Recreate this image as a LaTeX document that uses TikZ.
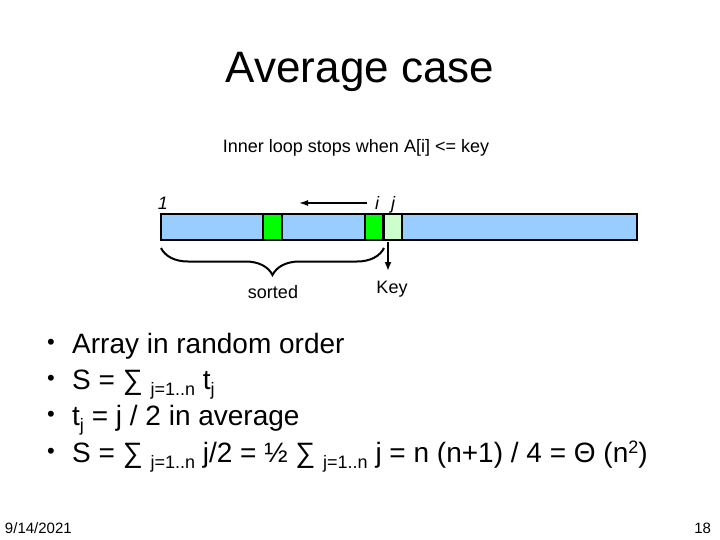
\documentclass[tikz,border=0pt]{standalone}
\usepackage{fontspec}
\setmainfont{Liberation Sans}
\usetikzlibrary{decorations.pathreplacing,arrows.meta}
\definecolor{cellblue}{RGB}{153,204,255}
\definecolor{cellgreen}{RGB}{0,255,0}
\definecolor{celllight}{RGB}{204,255,204}
\newcommand{\fs}[1]{\fontsize{#1}{#1}\selectfont}
\newcommand{\mysub}[1]{\raisebox{-6pt}{\fs{18}#1}}
\newcommand{\mysup}[1]{\raisebox{9pt}{\fs{18}#1}}
\begin{document}
\begin{tikzpicture}[x=1pt,y=-1pt,
  txt/.style={inner sep=0pt,outer sep=0pt,anchor=base},
  cellbox/.style={draw=black,line width=2.6pt},
  bul/.style={inner sep=0pt,anchor=base west,font=\fs{28}},
  bulmark/.style={inner sep=0pt,anchor=base,font=\fs{22}}]
\useasboundingbox (0,0) rectangle (720,540);
\fill[white] (0,0) rectangle (720,540);
% title
\node[txt,font=\fs{44}] (title) at (360,83) {Average case};
\node[txt,font=\fs{18}] (sub) at (356,153) {Inner loop stops when A[i] <= key};
% array
\draw[cellbox,fill=cellblue] (161,214) rectangle (637,240);
\draw[cellbox,fill=cellgreen] (263,214) rectangle (282,240);
\draw[cellbox,fill=cellgreen] (365,214) rectangle (383,240);
\draw[cellbox,fill=celllight] (384,214) rectangle (402,240);
\coordinate (bl) at (161,248);
\coordinate (br) at (384,248);
% labels above
\node[txt,font=\fs{18}\itshape] (one) at (163,210) {1};
\node[txt,font=\fs{18}\itshape] (ii) at (377,210) {i};
\node[txt,font=\fs{18}\itshape] (jj) at (393,210) {j};
\coordinate (arS) at (367,203);
\coordinate (arE) at (299,203);
\draw[line width=1.4pt,-{Latex[length=9pt,width=6pt]}] (arS) -- (arE);
% brace
\draw[line width=2pt,decorate,decoration={brace,mirror,amplitude=27pt,aspect=0.5}] (bl) -- (br);
\node[txt,font=\fs{18}] (sorted) at (273,298) {sorted};
% key
\coordinate (kS) at (388,242);
\coordinate (kE) at (388,271);
\draw[line width=2pt,-{Latex[length=9pt,width=7pt]}] (kS) -- (kE);
\node[txt,font=\fs{18}] (key) at (392,293) {Key};
% bullets
\node[bulmark] (b1) at (51,349) {•};
\node[bulmark] (b2) at (51,385) {•};
\node[bulmark] (b3) at (51,421) {•};
\node[bulmark] (b4) at (51,458) {•};
\node[bul] (t1) at (72,353) {Array in random order};
\node[bul] (t2) at (72,389) {S = ∑ \mysub{j=1..n} t\mysub{j}};
\node[bul] (t3) at (72,425) {t\mysub{j} = j / 2 in average};
\node[bul] (t4) at (72,462) {S = ∑ \mysub{j=1..n} j/2 = ½ ∑ \mysub{j=1..n} j = n (n+1) / 4 = Θ (n\mysup{2})};
% footer
\node[txt,anchor=base west,font=\fs{15}] (date) at (5,533) {9/14/2021};
\node[txt,anchor=base east,font=\fs{15}] (page) at (711,533) {18};
\end{tikzpicture}
\end{document}
